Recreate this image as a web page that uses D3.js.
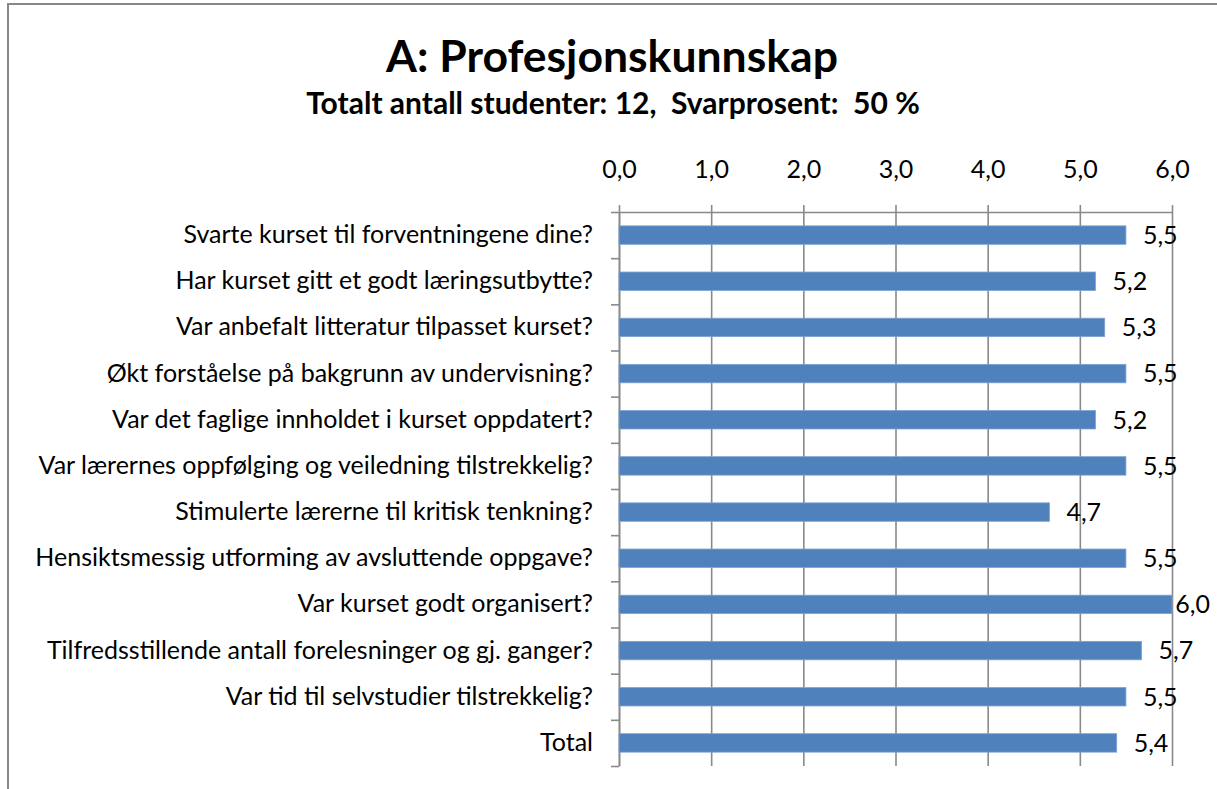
<!DOCTYPE html>
<html>
<head>
<meta charset="utf-8">
<script src="https://cdn.jsdelivr.net/npm/d3@7"></script>
<style>
  body { margin: 0; background: #fff; }
  text { font-family: Lato, "Open Sans", sans-serif; fill: #000; }
  .axis path, .axis line { stroke: #898989; stroke-width: 1.6; }
</style>
</head>
<body>
<div class="chartDiv"></div>
<script>
// Survey chart: A: Profesjonskunnskap

let titleText = "A: Profesjonskunnskap";
let subtitleText = "Totalt antall studenter: 12,  Svarprosent:  50 %";

let questions = [
  "Svarte kurset til forventningene dine?",
  "Har kurset gitt et godt læringsutbytte?",
  "Var anbefalt litteratur tilpasset kurset?",
  "Økt forståelse på bakgrunn av undervisning?",
  "Var det faglige innholdet i kurset oppdatert?",
  "Var lærernes oppfølging og veiledning tilstrekkelig?",
  "Stimulerte lærerne til kritisk tenkning?",
  "Hensiktsmessig utforming av avsluttende oppgave?",
  "Var kurset godt organisert?",
  "Tilfredsstillende antall forelesninger og gj. ganger?",
  "Var tid til selvstudier tilstrekkelig?",
  "Total"
];

let scores = [5.5, 5.17, 5.27, 5.5, 5.17, 5.5, 4.67, 5.5, 6.0, 5.67, 5.5, 5.4];

let xTicks = [0, 1, 2, 3, 4, 5, 6];

let svgWidth = 1217;
let svgHeight = 789;

let margin = { top: 212, bottom: 23, left: 619, right: 45 };
let graphWidth = svgWidth - margin.left - margin.right;
let graphHeight = svgHeight - margin.top - margin.bottom;

let svg = d3.select('.chartDiv')
            .append('svg')
            .attr('width', svgWidth)
            .attr('height', svgHeight);

// outer frame (cut off on the right and bottom)
svg.append('rect')
   .attr('x', 8).attr('y', 4)
   .attr('width', svgWidth + 20).attr('height', svgHeight + 20)
   .attr('fill', 'none')
   .attr('stroke', '#888')
   .attr('stroke-width', 2);

svg.append('text')
   .attr('x', 612).attr('y', 72)
   .attr('text-anchor', 'middle')
   .style('font-size', '44.5px').style('font-weight', 'bold')
   .text(titleText);

svg.append('text')
   .attr('x', 613).attr('y', 114)
   .attr('text-anchor', 'middle')
   .style('font-size', '30px').style('font-weight', 'bold')
   .style('white-space', 'pre')
   .attr('xml:space', 'preserve')
   .text(subtitleText);

let chartGroup = svg.append('g')
                    .attr('transform', `translate(${margin.left}, ${margin.top})`);

let xScale = d3.scaleLinear().domain([0, 6]).range([0, graphWidth]);

let yScale = d3.scaleBand()
               .domain(questions)
               .range([0, graphHeight])
               .paddingInner(0.6)
               .paddingOuter(0.3);

let edgeScale = d3.scaleLinear().domain([0, questions.length]).range([0, graphHeight]);

let fmt = d => d3.format('.1f')(d).replace('.', ',');

// gridlines
chartGroup.append('g')
          .classed('axis', true)
          .call(d3.axisTop(xScale).tickValues(xTicks).tickSize(-graphHeight).tickFormat(''))
          .call(g => g.select('.domain').remove());

// top axis with labels
chartGroup.append('g')
          .classed('axis', true)
          .call(d3.axisTop(xScale).tickValues(xTicks).tickSizeInner(7).tickSizeOuter(0).tickPadding(27).tickFormat(fmt))
          .selectAll('text')
          .style('font-size', '25px');

// left axis with ticks at category edges
chartGroup.append('g')
          .classed('axis', true)
          .call(d3.axisLeft(edgeScale).tickValues(d3.range(questions.length + 1)).tickSizeInner(8).tickSizeOuter(0).tickFormat(''));

// category labels
chartGroup.append('g')
          .call(d3.axisLeft(yScale).tickSize(0).tickPadding(26))
          .call(g => g.select('.domain').remove())
          .selectAll('text')
          .style('font-size', '25px');

// bars
chartGroup.selectAll('.bar')
          .data(scores)
          .enter()
          .append('rect')
          .classed('bar', true)
          .attr('x', 0)
          .attr('y', (d, i) => yScale(questions[i]))
          .attr('width', d => xScale(d))
          .attr('height', yScale.bandwidth())
          .attr('fill', '#4F81BD')
          .attr('stroke', '#7FA3D3')
          .attr('stroke-width', 0.8);

// value labels
chartGroup.selectAll('.val')
          .data(scores)
          .enter()
          .append('text')
          .classed('val', true)
          .attr('y', (d, i) => yScale(questions[i]) + yScale.bandwidth() / 2)
          .attr('dy', '0.35em')
          .style('font-size', '25px')
          .text(d => fmt(d))
          .attr('x', function(d) {
            let w = this.getComputedTextLength();
            let maxRight = svgWidth - 7 - margin.left;
            return Math.min(xScale(d) + 17, maxRight - w);
          });
</script>
</body>
</html>
